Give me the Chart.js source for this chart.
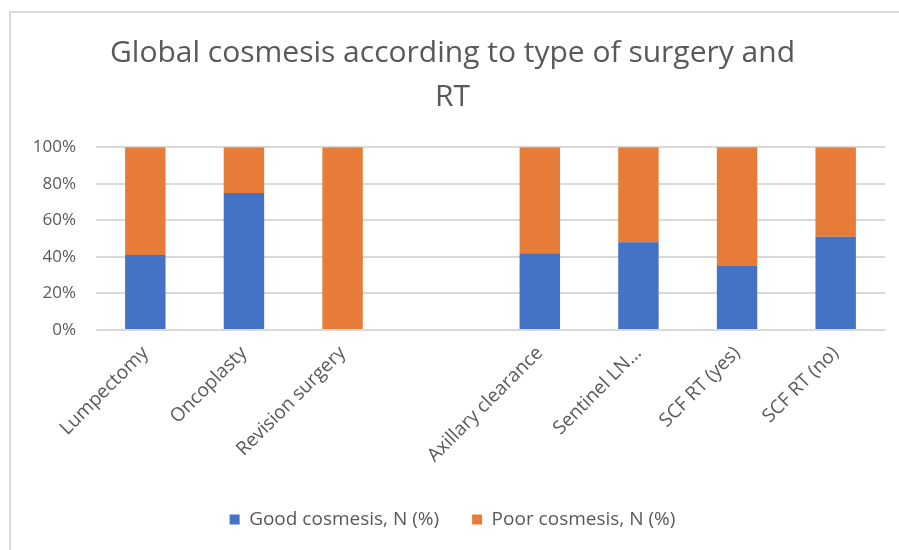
<!DOCTYPE html>
<html>
<head>
<meta charset="utf-8">
<script src="https://cdn.jsdelivr.net/npm/chart.js@4"></script>
<style>
  html, body { margin: 0; padding: 0; background: #fff; }
  #wrap { width: 899px; height: 550px; position: relative; }
</style>
</head>
<body>
<div id="wrap"><canvas id="c" width="899" height="550"></canvas></div>
<script>
const categories = ["Lumpectomy", "Oncoplasty", "Revision surgery", "", "Axillary clearance", "Sentinel LN...", "SCF RT (yes)", "SCF RT (no)"];
const goodCosmesis = [41, 75, 0, null, 42, 48, 35, 51];
const poorCosmesis = [59, 25, 100, null, 58, 52, 65, 49];
const yTicks = [0, 20, 40, 60, 80, 100];
const seriesNames = ["Good cosmesis, N (%)", "Poor cosmesis, N (%)"];
const titleLines = ["Global cosmesis according to type of surgery and", "RT"];

const FONT = "'Open Sans', sans-serif";
const GREY = "#595959";

const borderPlugin = {
  id: 'outerBorder',
  beforeDraw(chart) {
    const ctx = chart.ctx;
    ctx.save();
    ctx.fillStyle = '#fff';
    ctx.fillRect(0, 0, chart.width, chart.height);
    ctx.strokeStyle = '#d9d9d9';
    ctx.lineWidth = 2;
    ctx.strokeRect(10, 12, 1000, 1000);
    ctx.restore();
  }
};

new Chart(document.getElementById('c'), {
  type: 'bar',
  data: {
    labels: categories,
    datasets: [
      { label: seriesNames[0], data: goodCosmesis, backgroundColor: '#4472C4', barPercentage: 0.41, categoryPercentage: 1 },
      { label: seriesNames[1], data: poorCosmesis, backgroundColor: '#E67C37', barPercentage: 0.41, categoryPercentage: 1 }
    ]
  },
  options: {
    responsive: false,
    animation: false,
    devicePixelRatio: 1,
    layout: { padding: { left: 20, right: 14, top: 0, bottom: 11 } },
    plugins: {
      title: {
        display: true,
        text: titleLines,
        color: GREY,
        font: { family: FONT, size: 30, weight: 'normal', lineHeight: 1.47 },
        padding: { top: 31, bottom: 28 }
      },
      legend: {
        position: 'bottom',
        labels: {
          color: GREY,
          font: { family: FONT, size: 19 },
          boxWidth: 10,
          boxHeight: 10,
          padding: 33
        }
      },
      tooltip: { enabled: false }
    },
    scales: {
      x: {
        stacked: true,
        grid: { display: false },
        border: { display: false },
        ticks: {
          color: GREY,
          font: { family: FONT, size: 19 },
          minRotation: 45,
          maxRotation: 45,
          autoSkip: false,
          padding: 4
        },
        afterFit(scale) { scale.height = 147; }
      },
      y: {
        stacked: true,
        min: 0,
        max: 100,
        afterBuildTicks(scale) { scale.ticks = yTicks.map(v => ({ value: v })); },
        grid: { color: '#d9d9d9', lineWidth: 2, drawTicks: false },
        border: { display: false },
        ticks: {
          color: GREY,
          font: { family: FONT, size: 17 },
          padding: 20,
          callback: v => v + '%'
        },
        afterFit(scale) { scale.width = 76; }
      }
    }
  },
  plugins: [borderPlugin]
});
</script>
</body>
</html>
